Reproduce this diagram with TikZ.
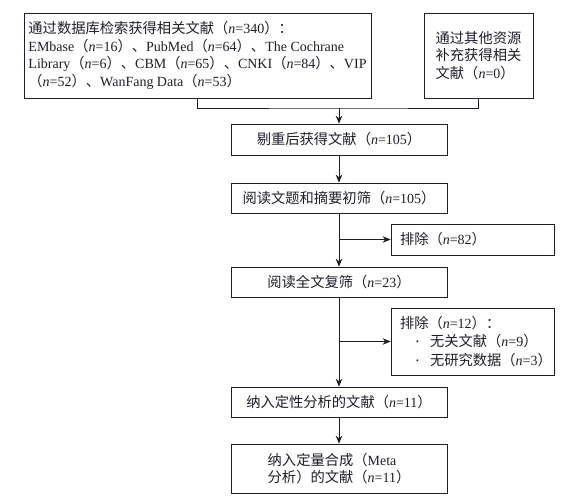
\documentclass[tikz,border=0pt]{standalone}
\usepackage{fontspec}
\setmainfont{Liberation Serif}
\newfontfamily\cjk{Noto Sans CJK SC}[Scale=1.02]
\newcommand\zh[1]{{\cjk #1}}
\newcommand\nn{\textit{n}}
\newcommand\bul{\makebox[14pt][l]{\raisebox{2pt}{\fontsize{8}{8}\selectfont\textbullet}}}
\usetikzlibrary{arrows.meta}
\definecolor{ink}{HTML}{1E1E2A}
\tikzset{
  boxbase/.style={draw=ink, line width=0.7pt, text=ink, inner xsep=8pt, inner ysep=2pt,
    font=\fontsize{14}{17.6}\selectfont},
  mainbox/.style={boxbase, minimum width=216pt, minimum height=31pt, align=center},
  exbox/.style={boxbase, minimum width=163pt, text width=145pt, align=left},
  conn/.style={draw=ink, line width=0.7pt},
  arr/.style={conn, -{Stealth[length=8pt,width=6.5pt]}},
}
\begin{document}
\begin{tikzpicture}[x=1pt,y=-1pt]
\useasboundingbox (0,0) rectangle (586,498);
\node[boxbase, inner xsep=4pt, minimum width=347pt, minimum height=85pt, align=left] (b1) at (197.5,55.5)
 {\zh{通过数据库检索获得相关文献（}\nn=340\zh{）：}\\
  EMbase\zh{（}\nn=16\zh{）、}PubMed\zh{（}\nn=64\zh{）、}The Cochrane\\
  Library\zh{（}\nn=6\zh{）、}CBM\zh{（}\nn=65\zh{）、}CNKI\zh{（}\nn=84\zh{）、}VIP\\
  \zh{（}\nn=52\zh{）、}WanFang Data\zh{（}\nn=53\zh{）}};
\node[boxbase, minimum width=109pt, minimum height=85pt, align=left] (b2) at (478.5,55.5)
 {\zh{通过其他资源}\\ \zh{补充获得相关}\\ \zh{文献（}\nn=0\zh{）}};
\node[mainbox] (m1) at (339,139.5) {\zh{剔重后获得文献（}\nn=105\zh{）}};
\node[mainbox, minimum height=30pt] (m2) at (339,198) {\zh{阅读文题和摘要初筛（}\nn=105\zh{）}};
\node[exbox, minimum height=31pt] (e1) at (472.5,239.5) {\zh{排除（}\nn=82\zh{）}};
\node[mainbox, minimum height=30pt] (m3) at (339,282) {\zh{阅读全文复筛（}\nn=23\zh{）}};
\node[exbox, minimum height=67pt, font=\fontsize{14}{18.5}\selectfont] (e2) at (472.5,341.5)
 {\zh{排除（}\nn=12\zh{）：}\\
  \hspace*{16pt}\bul\zh{无关文献（}\nn=9\zh{）}\\
  \hspace*{16pt}\bul\zh{无研究数据（}\nn=3\zh{）}};
\node[mainbox, minimum height=30pt] (m4) at (339,402) {\zh{纳入定性分析的文献（}\nn=11\zh{）}};
\node[mainbox, minimum height=49pt, align=left, font=\fontsize{14}{17}\selectfont] (m5) at (339,468.5)
 {\zh{纳入定量合成（}Meta\\ \zh{分析）的文献（}\nn=11\zh{）}};
\coordinate (mg) at (339,108);
\draw[conn] (b1.south) |- (mg) -| (b2.south);
\draw[arr] (mg) -- (m1.north);
\draw[arr] (m1.south) -- (m2.north);
\draw[arr] (m2.south) -- (m3.north);
\draw[arr] (m2.south |- e1.west) -- (e1.west);
\draw[arr] (m3.south) -- (m4.north);
\draw[arr] (m3.south |- e2.west) -- (e2.west);
\draw[arr] (m4.south) -- (m5.north);
\end{tikzpicture}
\end{document}
